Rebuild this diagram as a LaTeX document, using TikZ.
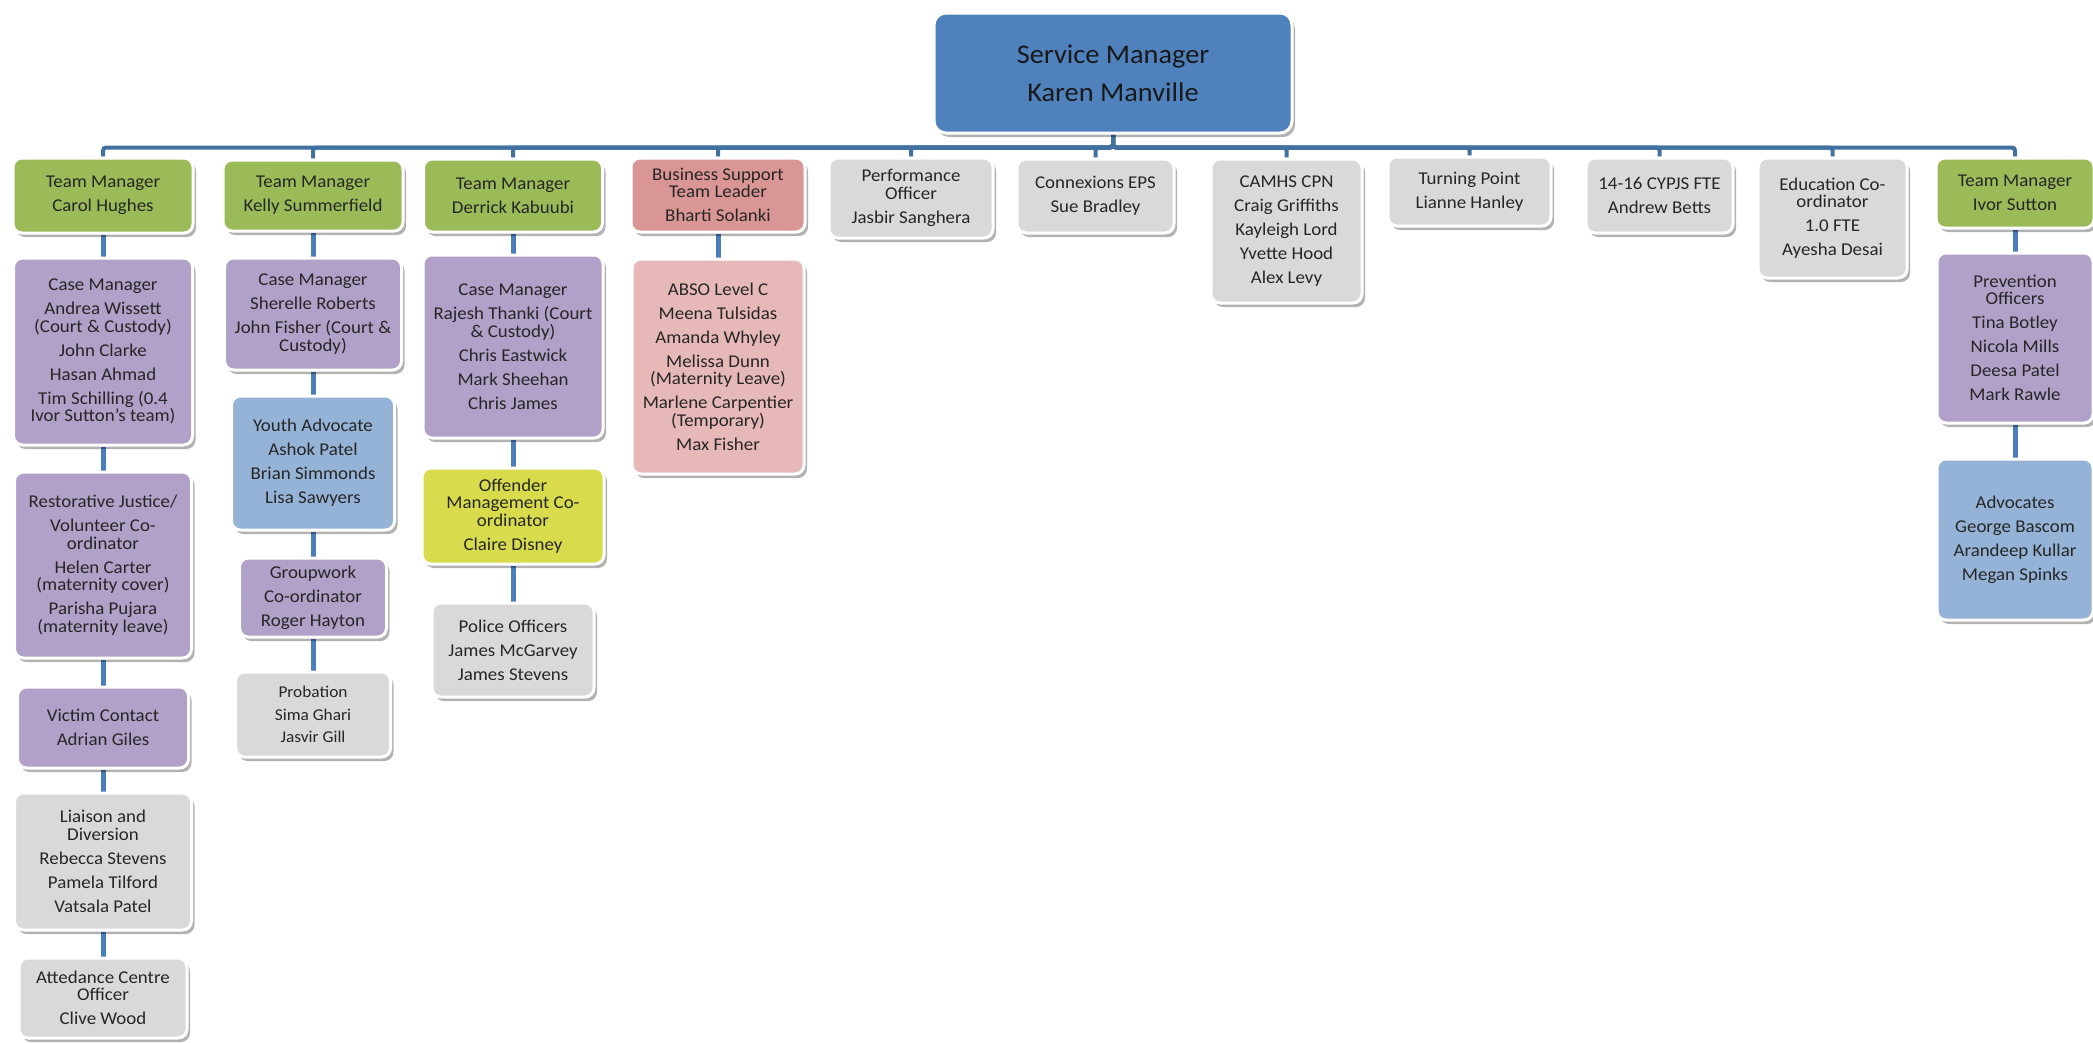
\documentclass[tikz,border=0pt]{standalone}
\usepackage{fontspec}
\setmainfont{Carlito}[FakeStretch=1.05]
\usetikzlibrary{shadows, backgrounds}
\definecolor{headblue}{RGB}{79, 129, 189}
\definecolor{tmgreen}{RGB}{155, 187, 89}
\definecolor{staffpurple}{RGB}{177, 160, 199}
\definecolor{advblue}{RGB}{149, 179, 215}
\definecolor{othergray}{RGB}{217, 217, 217}
\definecolor{bsred}{RGB}{218, 150, 148}
\definecolor{bspink}{RGB}{230, 184, 183}
\definecolor{omyellow}{RGB}{216, 220, 76}
\definecolor{busblue}{RGB}{65, 113, 160}
\definecolor{linkblue}{RGB}{74, 126, 187}
\definecolor{boxtext}{RGB}{38, 38, 38}
\newcommand{\boxfont}{\fontsize{18pt}{24pt}\selectfont}

\begin{document}
\begin{tikzpicture}[x=1pt, y=-1pt,
  orgbox/.style={rectangle, rounded corners=9pt, draw=white, line width=3pt, align=center, inner sep=0pt,
    text=boxtext, font=\boxfont, drop shadow={shadow xshift=3pt, shadow yshift=-4pt, opacity=0.3, fill=black}},
  bus/.style={draw=busblue, line width=4pt, rounded corners=3pt},
  link/.style={draw=linkblue, line width=5pt}]
\useasboundingbox (0,0) rectangle (2093,1042);

% head of service
\node[orgbox, fill=headblue, rounded corners=12pt, minimum width=358pt, minimum height=120pt,
  text=black!90, font=\fontsize{27pt}{38pt}\selectfont] (sm) at (1113,73) {Service Manager\\Karen Manville};

% first row
\node[orgbox, fill=tmgreen, minimum width=180pt, minimum height=75pt] (carol) at (103,195.5) {Team Manager\\Carol Hughes};
\node[orgbox, fill=tmgreen, minimum width=180pt, minimum height=71pt] (kelly) at (313,195.5) {Team Manager\\Kelly Summerfield};
\node[orgbox, fill=tmgreen, minimum width=179pt, minimum height=73pt] (derrick) at (513,195.5) {Team Manager\\Derrick Kabuubi};
\node[orgbox, fill=bsred, minimum width=174pt, minimum height=74pt] (bs) at (718,195) {Business Support\\[-6.5pt]Team Leader\\Bharti Solanki};
\node[orgbox, fill=othergray, minimum width=164pt, minimum height=80pt] (perf) at (911,198) {Performance\\[-6.5pt]Officer\\Jasbir Sanghera};
\node[orgbox, fill=othergray, minimum width=157pt, minimum height=74pt] (conn) at (1095.5,196) {Connexions EPS\\Sue Bradley};
\node[orgbox, fill=othergray, minimum width=151pt, minimum height=144pt] (camhs) at (1286.5,231) {CAMHS CPN\\Craig Griffiths\\Kayleigh Lord\\Yvette Hood\\Alex Levy};
\node[orgbox, fill=othergray, minimum width=163pt, minimum height=69pt] (turn) at (1469.5,191.5) {Turning Point\\Lianne Hanley};
\node[orgbox, fill=othergray, minimum width=147pt, minimum height=75pt] (cyp) at (1659.5,195.5) {14-16 CYPJS FTE\\Andrew Betts};
\node[orgbox, fill=othergray, minimum width=149pt, minimum height=120pt] (edu) at (1832.5,218) {Education Co-\\[-6.5pt]ordinator\\1.0 FTE\\Ayesha Desai};
\node[orgbox, fill=tmgreen, minimum width=158pt, minimum height=70pt] (ivor) at (2015,193) {Team Manager\\Ivor Sutton};

% Carol Hughes team
\node[orgbox, fill=staffpurple, minimum width=179pt, minimum height=187pt] (cm1) at (103,351.5) {Case Manager\\Andrea Wissett\\[-6.5pt](Court \& Custody)\\John Clarke\\Hasan Ahmad\\Tim Schilling (0.4\\[-6.5pt]Ivor Sutton's team)};
\node[orgbox, fill=staffpurple, minimum width=177pt, minimum height=186pt] (rj) at (103,565) {Restorative Justice/\\Volunteer Co-\\[-6.5pt]ordinator\\Helen Carter\\[-6.5pt](maternity cover)\\Parisha Pujara\\[-6.5pt](maternity leave)};
\node[orgbox, fill=staffpurple, minimum width=171pt, minimum height=81pt] (vc) at (103,727.5) {Victim Contact\\Adrian Giles};
\node[orgbox, fill=othergray, minimum width=177pt, minimum height=137pt] (ld) at (103,861.5) {Liaison and\\[-6.5pt]Diversion\\Rebecca Stevens\\Pamela Tilford\\Vatsala Patel};
\node[orgbox, fill=othergray, minimum width=168pt, minimum height=80pt] (ac) at (103,998) {Attedance Centre\\[-6.5pt]Officer\\Clive Wood};

% Kelly Summerfield team
\node[orgbox, fill=staffpurple, minimum width=177pt, minimum height=112pt] (cm2) at (313,314) {Case Manager\\Sherelle Roberts\\John Fisher (Court \&\\[-6.5pt]Custody)};
\node[orgbox, fill=advblue, minimum width=163pt, minimum height=134pt] (ya) at (313,463) {Youth Advocate\\Ashok Patel\\Brian Simmonds\\Lisa Sawyers};
\node[orgbox, fill=staffpurple, minimum width=147pt, minimum height=79pt] (gw) at (313,597.5) {Groupwork\\Co-ordinator\\Roger Hayton};
\node[orgbox, fill=othergray, minimum width=155pt, minimum height=85pt,
  font=\fontsize{16.5pt}{22.5pt}\selectfont] (prob) at (313,714.5) {Probation\\Sima Ghari\\Jasvir Gill};

% Derrick Kabuubi team
\node[orgbox, fill=staffpurple, minimum width=180pt, minimum height=183pt] (cm3) at (513,346.5) {Case Manager\\Rajesh Thanki (Court\\[-6.5pt]\& Custody)\\Chris Eastwick\\Mark Sheehan\\Chris James};
\node[orgbox, fill=omyellow, minimum width=182pt, minimum height=96pt] (om) at (513,516) {Offender\\[-6.5pt]Management Co-\\[-6.5pt]ordinator\\Claire Disney};
\node[orgbox, fill=othergray, minimum width=162pt, minimum height=94pt] (pol) at (513,650) {Police Officers\\James McGarvey\\James Stevens};

% business support
\node[orgbox, fill=bspink, minimum width=172pt, minimum height=215pt] (abso) at (718,366.5) {ABSO Level C\\Meena Tulsidas\\Amanda Whyley\\Melissa Dunn\\[-6.5pt](Maternity Leave)\\Marlene Carpentier\\[-6.5pt](Temporary)\\Max Fisher};

% Ivor Sutton team
\node[orgbox, fill=staffpurple, minimum width=156pt, minimum height=170pt] (prev) at (2015,338) {Prevention\\[-6.5pt]Officers\\Tina Botley\\Nicola Mills\\Deesa Patel\\Mark Rawle};
\node[orgbox, fill=advblue, minimum width=156pt, minimum height=161pt] (adv) at (2015,539.5) {Advocates\\George Bascom\\Arandeep Kullar\\Megan Spinks};

% connectors
\begin{scope}[on background layer]
  \foreach \c in {carol, kelly, derrick, bs, perf, conn, camhs, turn, cyp, edu, ivor}
    \draw[bus] (sm.south) -- ++(0,13) -| (\c.north);
  \foreach \a/\b in {carol/cm1, cm1/rj, rj/vc, vc/ld, ld/ac, kelly/cm2, cm2/ya, ya/gw, gw/prob,
                     derrick/cm3, cm3/om, om/pol, bs/abso, ivor/prev, prev/adv}
    \draw[link] (\a.south) -- (\a.south |- \b.north);
\end{scope}
\end{tikzpicture}
\end{document}
